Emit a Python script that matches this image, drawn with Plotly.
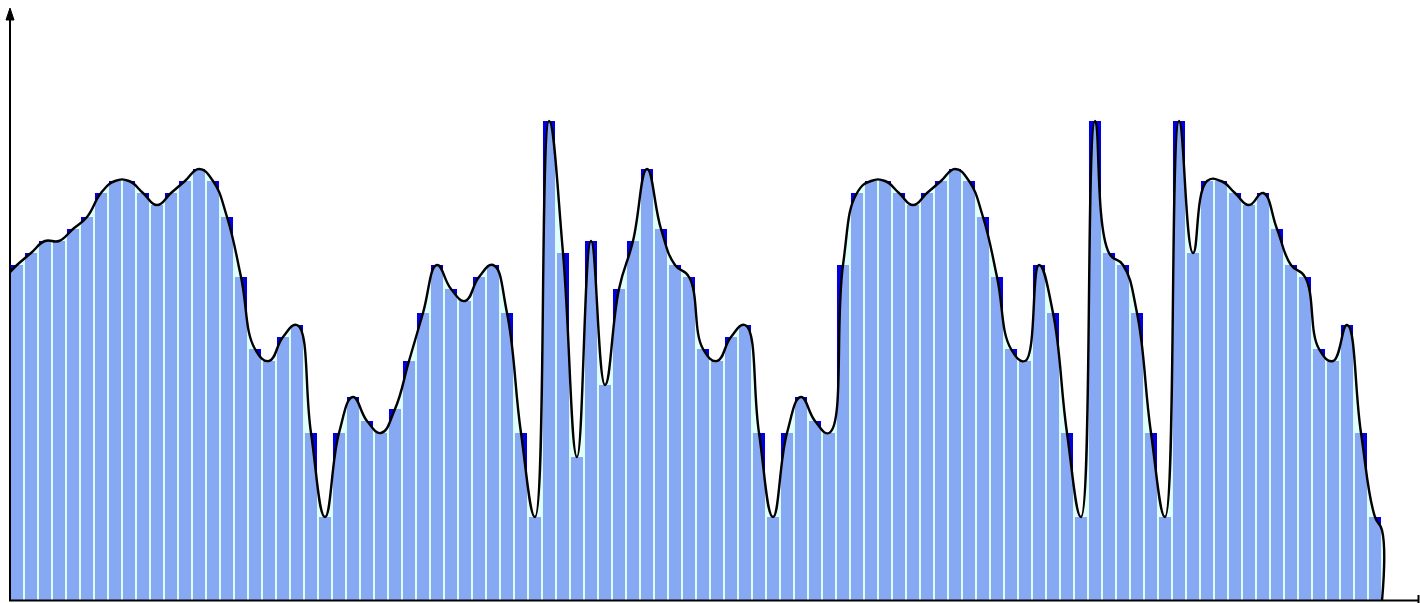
import plotly.graph_objects as go

# Bar values (one per slot)
values = [28, 29, 30, 30, 31, 32, 34, 35, 35, 34,
          33, 34, 35, 36, 35, 32, 27, 21, 20, 22,
          23, 14, 7, 14, 17, 15, 14, 16, 20, 24,
          28, 26, 25, 27, 28, 24, 14, 7, 40, 29,
          12, 30, 18, 26, 30, 36, 31, 28, 27, 21,
          20, 22, 23, 14, 7, 14, 17, 15, 14, 28,
          34, 35, 35, 34, 33, 34, 35, 36, 35, 32,
          27, 21, 20, 28, 24, 14, 7, 40, 29, 28,
          24, 14, 7, 40, 29, 35, 35, 34, 33, 34,
          31, 28, 27, 21, 20, 23, 14, 7]
categories = list(range(len(values)))

# Smooth curve: starts at the left edge, runs through the bar tops, ends at the right edge and drops to zero
curve_start_value = 27.4
curve_end_values = [5.9, 0]

curve_x = [categories[0] - 0.5] + categories + [categories[-1] + 0.5] * len(curve_end_values)
curve_y = [curve_start_value] + values + curve_end_values

W, H = 1420, 603
BASE = 601      # baseline row
LEFT = 10       # y-axis column
ML, MB = LEFT, H - BASE
plot_w = W - ML
plot_h = H - MB
px_per_unit_x = 14.0
px_per_unit_y = 12.0

fig = go.Figure()
fig.add_trace(go.Bar(
    x=categories, y=values,
    marker=dict(color="rgb(0,0,225)", line=dict(width=0)),
    hoverinfo="skip",
))
fig.add_trace(go.Scatter(
    x=curve_x, y=curve_y, mode="lines",
    line=dict(color="black", width=2.4, shape="spline", smoothing=1.3),
    fill="tozeroy", fillcolor="rgba(205,255,250,0.66)",
    hoverinfo="skip",
))

x0 = -0.5
x1 = x0 + plot_w / px_per_unit_x
y1 = plot_h / px_per_unit_y

def px_x(p):
    return (p - ML) / plot_w

def px_y(p):
    return (BASE - p) / plot_h

shapes = [
    # y axis
    dict(type="line", xref="paper", yref="paper", x0=px_x(10), x1=px_x(10), y0=px_y(601), y1=px_y(16),
         line=dict(color="black", width=2)),
    dict(type="path", xref="paper", yref="paper",
         path=f"M {px_x(10)} {px_y(8)} L {px_x(14)} {px_y(20)} L {px_x(6)} {px_y(20)} Z",
         fillcolor="black", line=dict(color="black", width=1)),
    # x axis
    dict(type="line", xref="paper", yref="paper", x0=px_x(9), x1=px_x(1419), y0=px_y(600.5), y1=px_y(600.5),
         line=dict(color="black", width=2)),
    dict(type="line", xref="paper", yref="paper", x0=px_x(1418.5), x1=px_x(1418.5),
         y0=px_y(595), y1=px_y(603), line=dict(color="black", width=2)),
]

fig.update_layout(
    width=W, height=H,
    margin=dict(l=ML, r=0, t=0, b=MB, pad=0),
    paper_bgcolor="white", plot_bgcolor="white",
    showlegend=False, bargap=0.14,
    xaxis=dict(range=[x0, x1], visible=False, showgrid=False, zeroline=False),
    yaxis=dict(range=[0, y1], visible=False, showgrid=False, zeroline=False),
    shapes=shapes,
)

fig.write_html(
    "out.html",
    config={"displayModeBar": False},
    post_script="document.body.style.margin='0';document.body.style.overflow='hidden';",
)
